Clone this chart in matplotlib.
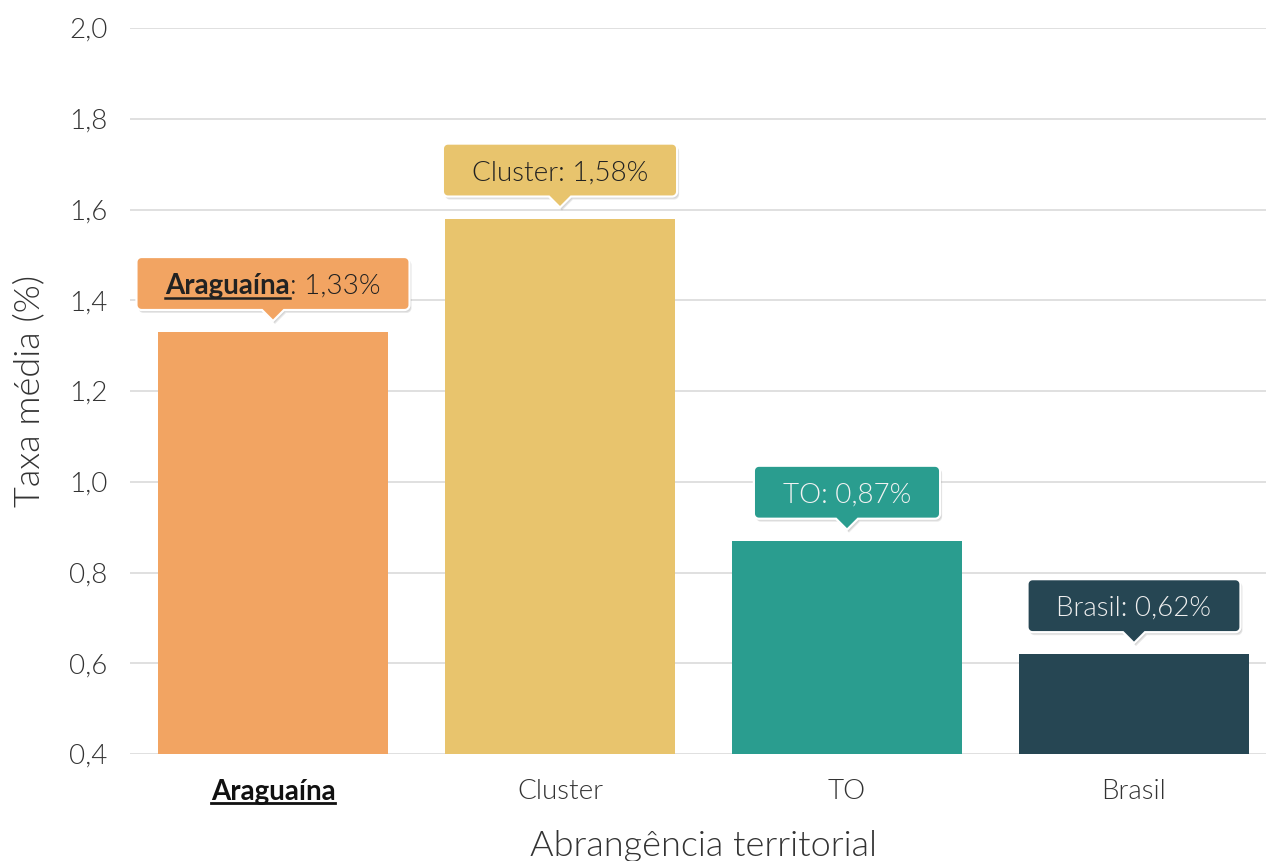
import numpy as np
import matplotlib.pyplot as plt
from matplotlib.patches import Polygon
from matplotlib.transforms import IdentityTransform
from matplotlib.lines import Line2D

# dados
regioes = ['Araguaína', 'Cluster', 'TO', 'Brasil']
taxas = [1.33, 1.58, 0.87, 0.62]
taxas_txt = ['1,33%', '1,58%', '0,87%', '0,62%']
cores = ['#F2A462', '#E8C46D', '#2A9D8F', '#264653']
cor_texto = ['#222222', '#222222', '#f2f2f2', '#eeeeee']
yticks = [0.4, 0.6, 0.8, 1.0, 1.2, 1.4, 1.6, 1.8, 2.0]
ytick_labels = ['0,4', '0,6', '0,8', '1,0', '1,2', '1,4', '1,6', '1,8', '2,0']

plt.rcParams['font.family'] = ['Lato', 'DejaVu Sans']
FS = 20
LEVE = 300
W, H = 1266, 861
fig = plt.figure(figsize=(W / 100, H / 100), dpi=100)
ax = fig.add_axes([129.5 / W, 107 / H, 1148 / W, 726 / H])

x = np.arange(len(regioes))
ax.bar(x, taxas, width=0.8, color=cores, zorder=2)
ax.set_xlim(-0.5, 3.5)
ax.set_ylim(0.4, 2.0)
ax.set_yticks(yticks)
ax.set_yticklabels(ytick_labels, fontsize=FS, fontweight=LEVE, color='#333333')
ax.set_xticks(x)
ax.set_xticklabels(regioes, fontsize=FS, fontweight=LEVE, color='#333333')
ax.get_xticklabels()[0].set_fontweight('bold')
ax.get_xticklabels()[0].set_color('#111111')
ax.tick_params(axis='both', length=0)
ax.tick_params(axis='y', pad=16)
ax.tick_params(axis='x', pad=18)
ax.grid(axis='y', color='#dddddd', linewidth=1.3, zorder=0)
for s in ax.spines.values():
    s.set_visible(False)
ax.set_ylabel('Taxa média (%)', fontsize=26, fontweight=LEVE, color='#333333', labelpad=17)
ax.set_xlabel('Abrangência territorial', fontsize=26, fontweight=LEVE, color='#333333', labelpad=18)

fig.canvas.draw()
r = fig.canvas.get_renderer()
ident = IdentityTransform()


def balao(cx, tip_y, w, h, rad=5, ph=11, pw=11):
    # contorno do balão (retângulo arredondado + ponta) em pixels
    y0 = tip_y + ph
    y1 = y0 + h
    x0 = cx - w / 2
    x1 = cx + w / 2
    pts = [(cx, tip_y), (cx + pw, y0)]
    for (ccx, ccy, a0, a1) in [(x1 - rad, y0 + rad, -90, 0), (x1 - rad, y1 - rad, 0, 90),
                               (x0 + rad, y1 - rad, 90, 180), (x0 + rad, y0 + rad, 180, 270)]:
        for a in np.radians(np.linspace(a0, a1, 8)):
            pts.append((ccx + rad * np.cos(a), ccy + rad * np.sin(a)))
    pts.append((cx - pw, y0))
    return pts


# rótulos tipo tooltip
for i in range(len(regioes)):
    px, py = ax.transData.transform((x[i], taxas[i]))
    tip = py + 11
    if i == 0:
        t1 = fig.text(0, 0, regioes[i], fontsize=FS, fontweight='bold', color=cor_texto[i],
                      transform=ident, va='baseline', zorder=6)
        t2 = fig.text(0, 0, ': ' + taxas_txt[i], fontsize=FS, fontweight=LEVE, color=cor_texto[i],
                      transform=ident, va='baseline', zorder=6)
        w1 = t1.get_window_extent(r).width
        w2 = t2.get_window_extent(r).width
        tw = w1 + w2
    else:
        t1 = fig.text(0, 0, regioes[i] + ': ' + taxas_txt[i], fontsize=FS, fontweight=LEVE,
                      color=cor_texto[i], transform=ident, va='baseline', zorder=6)
        tw = t1.get_window_extent(r).width
    bw, bh = tw + 58, 53
    pts = balao(px, tip, bw, bh)
    for k, al in enumerate([0.05, 0.07, 0.09]):
        sombra = [(a + 1 + k * 0.5, b - 1 - k) for a, b in pts]
        fig.patches.append(Polygon(sombra, closed=True, transform=ident, facecolor='#000000',
                                   alpha=al, edgecolor='none', zorder=3))
    fig.patches.append(Polygon(pts, closed=True, transform=ident, facecolor=cores[i],
                               edgecolor='white', linewidth=1.6, zorder=4))
    base = tip + 11 + bh / 2 - 10
    xs = px - tw / 2
    t1.set_position((xs, base))
    if i == 0:
        t2.set_position((xs + w1, base))
        fig.lines.append(Line2D([xs, xs + w1], [base - 4, base - 4], transform=ident,
                                color=cor_texto[i], linewidth=1.8, zorder=6))

# sublinhado do rótulo do eixo
lab = ax.get_xticklabels()[0]
bb = lab.get_window_extent(r)
fig.lines.append(Line2D([bb.x0, bb.x1], [bb.y0 + 2, bb.y0 + 2], transform=ident,
                        color='#111111', linewidth=2))

fig.savefig('out.png', dpi=100)
